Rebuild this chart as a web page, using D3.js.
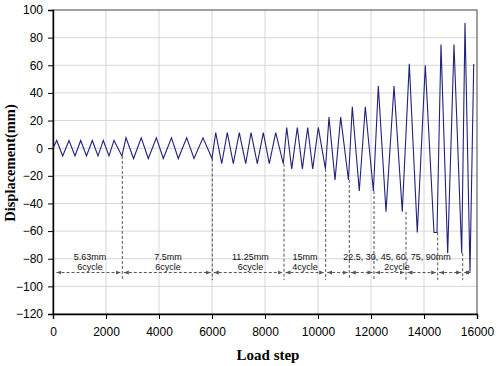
<!DOCTYPE html>
<html>
<head>
<meta charset="utf-8">
<script src="https://cdn.jsdelivr.net/npm/d3@7/dist/d3.min.js"></script>
<style>
  html, body { margin: 0; padding: 0; background: #fff; }
  svg { display: block; }
</style>
</head>
<body>
<svg id="chart" width="500" height="366"></svg>
<script>
// ---- data ----
const loadSteps = [
  0, 140, 366, 604, 830, 1045, 1264, 1483, 1698, 1898, 2113, 2302, 2600,
  2755, 3040, 3330, 3596, 3900, 4162, 4470, 4728, 5045, 5321, 5660, 6000,
  6140, 6366, 6577, 6804, 7030, 7272, 7472, 7710, 7936, 8162, 8404, 8690,
  8819, 9008, 9219, 9410, 9611, 9800, 10011, 10280,
  10415, 10642, 10856, 11150,
  11294, 11558, 11785, 12090,
  12276, 12566, 12868, 13180,
  13445, 13747, 14049, 14377, 14490,
  14641, 14894, 15132, 15423,
  15547, 15736, 15876
];
const displacement = [
  0, 5.6, -5.6, 5.6, -5.6, 5.6, -5.6, 5.6, -5.6, 5.6, -5.6, 5.6, -5.6,
  7.5, -7.5, 7.5, -7.5, 7.5, -7.5, 7.5, -7.5, 7.5, -7.5, 7.5, -7.5,
  11.25, -11.25, 11.25, -11.25, 11.25, -11.25, 11.25, -11.25, 11.25, -11.25, 11.25, -11.25,
  15, -15, 15, -15, 15, -15, 15, -15,
  22.5, -23, 22.5, -23,
  30, -31, 30, -31,
  45, -46, 45, -46,
  61, -61, 60, -61, -61,
  75, -76, 75, -76,
  90.5, -89.5, 61
];

// level boundaries (load step) and the displacement where the dashed marker starts
const boundarySteps = [2615, 6011, 8717, 10290, 11181, 12113, 13321, 14517, 15460];
const boundaryTops  = [-5.6, -7.5, -11.25, -15, -23, -31, -46, -61, -76];

// arrow segments along the annotation row
const segmentStarts = [75, 2615, 6011, 8717, 10290, 11181, 12113, 13321, 14517, 15460];
const segmentEnds   = [2615, 6011, 8717, 10290, 11181, 12113, 13321, 14517, 15460, 15820];

// labels
const labelSteps = [1400, 4340, 7450, 9509, 12980];
const labelLine1 = ["5.63mm", "7.5mm", "11.25mm", "15mm", "22.5, 30, 45, 60, 75, 90mm"];
const labelLine2 = ["6cycle", "6cycle", "6cycle", "4cycle", "2cycle"];

const xTicks = [0, 2000, 4000, 6000, 8000, 10000, 12000, 14000, 16000];
const yTicks = [-120, -100, -80, -60, -40, -20, 0, 20, 40, 60, 80, 100];
const arrowRowValue = -90;
const dashBottomValue = -95.5;

// ---- drawing ----
const svg = d3.select("#chart");
const pLeft = 53, pRight = 477, pTop = 10, pBottom = 314;

const x = d3.scaleLinear().domain([0, 16000]).range([pLeft, pRight]);
const y = d3.scaleLinear().domain([-120, 100]).range([pBottom, pTop]);

// gridlines
svg.append("g").selectAll("line").data(xTicks.slice(1, -1)).join("line")
  .attr("x1", d => x(d)).attr("x2", d => x(d))
  .attr("y1", pTop).attr("y2", pBottom)
  .attr("stroke", "#d6d6d6").attr("stroke-width", 1);
svg.append("g").selectAll("line").data(yTicks.slice(1, -1)).join("line")
  .attr("x1", pLeft).attr("x2", pRight)
  .attr("y1", d => y(d)).attr("y2", d => y(d))
  .attr("stroke", "#d6d6d6").attr("stroke-width", 1);

// frame
svg.append("rect").attr("x", pLeft).attr("y", pTop)
  .attr("width", pRight - pLeft).attr("height", pBottom - pTop)
  .attr("fill", "none").attr("stroke", "#444").attr("stroke-width", 1);

// axes
const xAxis = svg.append("g").attr("transform", `translate(0,${pBottom})`)
  .call(d3.axisBottom(x).tickValues(xTicks).tickSize(5).tickPadding(8).tickFormat(d3.format("d")));
const yAxis = svg.append("g").attr("transform", `translate(${pLeft},0)`)
  .call(d3.axisLeft(y).tickValues(yTicks).tickSize(5).tickPadding(5).tickFormat(d3.format("d")));
[xAxis, yAxis].forEach(g => {
  g.select(".domain").attr("stroke", "#000").attr("stroke-width", 1.4);
  g.selectAll(".tick line").attr("stroke", "#000");
  g.selectAll("text").attr("font-family", "'Liberation Sans', Arial, sans-serif")
    .attr("font-size", 12).attr("fill", "#000");
});

// dashed boundaries
svg.append("g").selectAll("line").data(boundarySteps).join("line")
  .attr("x1", d => x(d)).attr("x2", d => x(d))
  .attr("y1", (d, i) => y(boundaryTops[i])).attr("y2", y(dashBottomValue))
  .attr("stroke", "#555").attr("stroke-width", 1).attr("stroke-dasharray", "3,2");

// arrow marker
const defs = svg.append("defs");
defs.append("marker").attr("id", "ah").attr("viewBox", "0 0 6 6")
  .attr("refX", 6).attr("refY", 3).attr("markerWidth", 5).attr("markerHeight", 5)
  .attr("orient", "auto-start-reverse").attr("markerUnits", "userSpaceOnUse")
  .append("path").attr("d", "M0,0.6 L6,3 L0,5.4 Z").attr("fill", "#555");

svg.append("g").selectAll("line").data(segmentStarts).join("line")
  .attr("x1", d => x(d) + 1.5)
  .attr("x2", (d, i) => x(segmentEnds[i]) - 1.5)
  .attr("y1", y(arrowRowValue)).attr("y2", y(arrowRowValue))
  .attr("stroke", "#555").attr("stroke-width", 1).attr("stroke-dasharray", "3,2")
  .attr("marker-start", "url(#ah)").attr("marker-end", "url(#ah)");

// labels
const lab = svg.append("g").attr("font-family", "'Liberation Sans', Arial, sans-serif")
  .attr("font-size", 9).attr("fill", "#111").attr("text-anchor", "middle");
lab.selectAll("text.l1").data(labelSteps).join("text").attr("class", "l1")
  .attr("x", d => x(d)).attr("y", 259.5).text((d, i) => labelLine1[i]);
lab.selectAll("text.l2").data(labelSteps).join("text").attr("class", "l2")
  .attr("x", d => x(d)).attr("y", 270).text((d, i) => labelLine2[i]);

// displacement curve
const pts = loadSteps.map((s, i) => [s, displacement[i]]);
svg.append("path").datum(pts)
  .attr("d", d3.line().x(d => x(d[0])).y(d => y(d[1])))
  .attr("fill", "none").attr("stroke", "#22227a").attr("stroke-width", 1.1)
  .attr("stroke-linejoin", "miter");

// axis titles
svg.append("text").attr("x", 268).attr("y", 360).attr("text-anchor", "middle")
  .attr("font-family", "'Liberation Serif', 'Times New Roman', serif")
  .attr("font-weight", "bold").attr("font-size", 15).attr("fill", "#000")
  .text("Load step");
svg.append("text").attr("transform", "translate(15,163) rotate(-90)")
  .attr("text-anchor", "middle")
  .attr("font-family", "'Liberation Serif', 'Times New Roman', serif")
  .attr("font-weight", "bold").attr("font-size", 14.5).attr("fill", "#000")
  .text("Displacement(mm)");
</script>
</body>
</html>
